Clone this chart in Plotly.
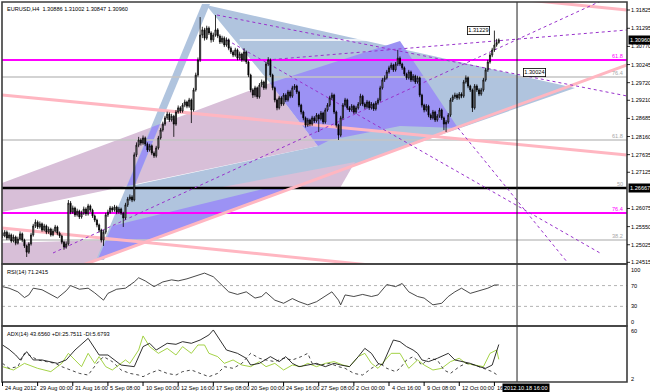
import plotly.graph_objects as go

# ---------------- data ----------------
symbol_text = "EURUSD,H4  1.30886 1.31002 1.30847 1.30960"
bar_index = list(range(227))

closes = [1.2528,1.2539,1.2522,1.2531,1.2513,1.2525,1.2507,1.2519,1.2534,1.2516,
 1.2499,1.2481,1.2505,1.2531,1.2557,1.2568,1.2554,1.2563,1.2545,1.2557,
 1.2539,1.2548,1.2531,1.2542,1.2554,1.2536,1.2528,1.2510,1.2496,1.2505,
 1.2623,1.2597,1.2609,1.2589,1.2600,1.2583,1.2594,1.2606,1.2592,1.2615,
 1.2603,1.2586,1.2574,1.2560,1.2545,1.2516,1.2539,1.2589,1.2597,1.2609,
 1.2603,1.2612,1.2597,1.2606,1.2594,1.2580,1.2618,1.2635,1.2641,1.2632,
 1.2763,1.2791,1.2806,1.2797,1.2812,1.2794,1.2777,1.2789,1.2768,1.2760,
 1.2783,1.2812,1.2835,1.2852,1.2870,1.2881,1.2864,1.2875,1.2852,1.2887,
 1.2899,1.2890,1.2907,1.2916,1.2904,1.2922,1.2893,1.2951,1.2994,1.3038,
 1.3110,1.3125,1.3101,1.3130,1.3116,1.3096,1.3110,1.3125,1.3107,1.3090,
 1.3101,1.3081,1.3096,1.3072,1.3061,1.3052,1.3067,1.3043,1.3055,1.3038,
 1.3061,1.3032,1.2994,1.2951,1.2936,1.2957,1.2931,1.2965,1.2974,1.2957,
 1.3026,1.3038,1.2994,1.2957,1.2922,1.2899,1.2928,1.2910,1.2936,1.2922,
 1.2945,1.2933,1.2957,1.2962,1.2945,1.2907,1.2887,1.2870,1.2849,1.2864,
 1.2852,1.2870,1.2861,1.2878,1.2867,1.2884,1.2858,1.2893,1.2907,1.2928,
 1.2936,1.2887,1.2849,1.2820,1.2870,1.2907,1.2922,1.2899,1.2893,1.2904,
 1.2887,1.2899,1.2910,1.2933,1.2910,1.2902,1.2916,1.2899,1.2910,1.2896,
 1.2913,1.2922,1.2957,1.2980,1.2986,1.3003,1.3015,1.3023,1.3009,1.3026,
 1.3043,1.3026,1.3015,1.2997,1.2986,1.3003,1.2980,1.2991,1.2974,1.2986,
 1.2936,1.2907,1.2893,1.2904,1.2878,1.2870,1.2887,1.2864,1.2875,1.2893,
 1.2870,1.2852,1.2858,1.2878,1.2922,1.2931,1.2936,1.2928,1.2939,1.2933,
 1.2974,1.2986,1.2962,1.2951,1.2899,1.2962,1.2951,1.2939,1.2951,1.2980,
 1.3009,1.3032,1.3052,1.3067,1.3081,1.30886,1.30960]

opens = [1.2537,1.2528,1.2539,1.2522,1.2531,1.2513,1.2525,1.2507,1.2519,1.2534,
 1.2516,1.2499,1.2481,1.2505,1.2531,1.2557,1.2568,1.2554,1.2563,1.2545,
 1.2557,1.2539,1.2548,1.2531,1.2542,1.2554,1.2536,1.2528,1.2510,1.2496,
 1.2505,1.2623,1.2597,1.2609,1.2589,1.2600,1.2583,1.2594,1.2606,1.2592,
 1.2615,1.2603,1.2586,1.2574,1.2560,1.2545,1.2516,1.2539,1.2589,1.2597,
 1.2609,1.2603,1.2612,1.2597,1.2606,1.2594,1.2580,1.2618,1.2635,1.2641,
 1.2632,1.2763,1.2791,1.2806,1.2797,1.2812,1.2794,1.2777,1.2789,1.2768,
 1.2760,1.2783,1.2812,1.2835,1.2852,1.2870,1.2881,1.2864,1.2875,1.2852,
 1.2887,1.2899,1.2890,1.2907,1.2916,1.2904,1.2922,1.2893,1.2951,1.2994,
 1.3038,1.3110,1.3125,1.3101,1.3130,1.3116,1.3096,1.3110,1.3125,1.3107,
 1.3090,1.3101,1.3081,1.3096,1.3072,1.3061,1.3052,1.3067,1.3043,1.3055,
 1.3038,1.3061,1.3032,1.2994,1.2951,1.2936,1.2957,1.2931,1.2965,1.2974,
 1.2957,1.3026,1.3038,1.2994,1.2957,1.2922,1.2899,1.2928,1.2910,1.2936,
 1.2922,1.2945,1.2933,1.2957,1.2962,1.2945,1.2907,1.2887,1.2870,1.2849,
 1.2864,1.2852,1.2870,1.2861,1.2878,1.2867,1.2884,1.2858,1.2893,1.2907,
 1.2928,1.2936,1.2887,1.2849,1.2820,1.2870,1.2907,1.2922,1.2899,1.2893,
 1.2904,1.2887,1.2899,1.2910,1.2933,1.2910,1.2902,1.2916,1.2899,1.2910,
 1.2896,1.2913,1.2922,1.2957,1.2980,1.2986,1.3003,1.3015,1.3023,1.3009,
 1.3026,1.3043,1.3026,1.3015,1.2997,1.2986,1.3003,1.2980,1.2991,1.2974,
 1.2986,1.2936,1.2907,1.2893,1.2904,1.2878,1.2870,1.2887,1.2864,1.2875,
 1.2893,1.2870,1.2852,1.2858,1.2878,1.2922,1.2931,1.2936,1.2928,1.2939,
 1.2933,1.2974,1.2986,1.2962,1.2951,1.2899,1.2962,1.2951,1.2939,1.2951,
 1.2980,1.3009,1.3032,1.3052,1.3067,1.3081,1.30886]

highs = [1.2546,1.2545,1.2544,1.2538,1.2535,1.2532,1.2529,1.2526,1.2541,1.2538,
 1.2520,1.2503,1.2510,1.2537,1.2563,1.2576,1.2573,1.2570,1.2567,1.2563,
 1.2561,1.2555,1.2552,1.2549,1.2560,1.2558,1.2541,1.2532,1.2514,1.2512,
 1.2632,1.2629,1.2616,1.2613,1.2607,1.2604,1.2601,1.2613,1.2611,1.2621,
 1.2619,1.2607,1.2590,1.2578,1.2564,1.2549,1.2545,1.2595,1.2604,1.2615,
 1.2614,1.2618,1.2616,1.2612,1.2610,1.2598,1.2624,1.2641,1.2648,1.2646,
 1.2770,1.2799,1.2815,1.2811,1.2819,1.2816,1.2799,1.2795,1.2793,1.2773,
 1.2789,1.2818,1.2841,1.2859,1.2876,1.2888,1.2886,1.2882,1.2879,1.2893,
 1.2906,1.2904,1.2913,1.2923,1.2920,1.2928,1.2926,1.2957,1.3001,1.3045,
 1.3162,1.3134,1.3131,1.3137,1.3135,1.3121,1.3117,1.3168,1.3130,1.3112,
 1.3108,1.3106,1.3103,1.3100,1.3077,1.3066,1.3073,1.3071,1.3062,1.3059,
 1.3072,1.3065,1.3036,1.2998,1.2956,1.2963,1.2961,1.2971,1.2981,1.2978,
 1.3032,1.3046,1.3042,1.2998,1.2961,1.2926,1.2934,1.2933,1.2942,1.2941,
 1.2951,1.2950,1.2963,1.2968,1.2966,1.2949,1.2911,1.2891,1.2874,1.2870,
 1.2868,1.2876,1.2875,1.2884,1.2882,1.2890,1.2888,1.2899,1.2913,1.2934,
 1.2943,1.2940,1.2891,1.2853,1.2876,1.2913,1.2928,1.2926,1.2904,1.2910,
 1.2908,1.2905,1.2916,1.2940,1.2937,1.2915,1.2922,1.2920,1.2916,1.2914,
 1.2919,1.2928,1.2963,1.2986,1.2993,1.3009,1.3021,1.3030,1.3027,1.3032,
 1.3067,1.3048,1.3030,1.3019,1.3001,1.3009,1.3007,1.2997,1.2995,1.2992,
 1.2990,1.2940,1.2911,1.2910,1.2908,1.2883,1.2893,1.2891,1.2881,1.2899,
 1.2897,1.2874,1.2864,1.2884,1.2928,1.2937,1.2943,1.2941,1.2945,1.2944,
 1.2980,1.2993,1.2990,1.2966,1.2955,1.2968,1.2967,1.2956,1.2957,1.2986,
 1.3015,1.3038,1.3058,1.3073,1.31229,1.3099,1.31002]

lows = [1.2522,1.2524,1.2516,1.2517,1.2508,1.2509,1.2501,1.2503,1.2515,1.2510,
 1.2493,1.2467,1.2476,1.2500,1.2526,1.2551,1.2548,1.2549,1.2540,1.2541,
 1.2533,1.2534,1.2526,1.2527,1.2538,1.2530,1.2522,1.2504,1.2488,1.2491,
 1.2500,1.2591,1.2592,1.2583,1.2584,1.2577,1.2578,1.2589,1.2586,1.2587,
 1.2597,1.2580,1.2568,1.2553,1.2538,1.2509,1.2499,1.2533,1.2583,1.2592,
 1.2597,1.2598,1.2591,1.2592,1.2589,1.2554,1.2575,1.2612,1.2630,1.2626,
 1.2628,1.2757,1.2785,1.2790,1.2792,1.2788,1.2771,1.2772,1.2762,1.2754,
 1.2755,1.2778,1.2807,1.2830,1.2847,1.2864,1.2858,1.2859,1.2815,1.2847,
 1.2882,1.2884,1.2885,1.2901,1.2898,1.2899,1.2855,1.2888,1.2946,1.2989,
 1.3032,1.3101,1.3094,1.3096,1.3110,1.3088,1.3090,1.3105,1.3101,1.3084,
 1.3085,1.3075,1.3076,1.3066,1.3055,1.3046,1.3047,1.3037,1.3038,1.3032,
 1.3033,1.3026,1.2988,1.2944,1.2928,1.2930,1.2925,1.2926,1.2959,1.2951,
 1.2952,1.3020,1.2988,1.2950,1.2915,1.2892,1.2894,1.2904,1.2905,1.2916,
 1.2917,1.2927,1.2928,1.2951,1.2939,1.2901,1.2880,1.2863,1.2842,1.2844,
 1.2846,1.2847,1.2855,1.2856,1.2829,1.2862,1.2852,1.2853,1.2888,1.2902,
 1.2922,1.2881,1.2842,1.2806,1.2815,1.2865,1.2902,1.2893,1.2887,1.2888,
 1.2881,1.2882,1.2894,1.2905,1.2904,1.2896,1.2897,1.2893,1.2894,1.2890,
 1.2891,1.2908,1.2917,1.2952,1.2974,1.2981,1.2998,1.3009,1.3003,1.3004,
 1.3020,1.3020,1.3009,1.2991,1.2980,1.2981,1.2974,1.2975,1.2968,1.2969,
 1.2930,1.2900,1.2886,1.2888,1.2872,1.2864,1.2865,1.2858,1.2859,1.2870,
 1.2864,1.2835,1.2829,1.2853,1.2873,1.2916,1.2925,1.2922,1.2923,1.2927,
 1.2928,1.2969,1.2956,1.2945,1.2887,1.2894,1.2945,1.2933,1.2934,1.2946,
 1.2975,1.3003,1.3027,1.3046,1.3061,1.3076,1.30847]

date_tick_bars = [0,16,32,48,64,80,96,112,128,144,160,176,192,208,224]
date_tick_labels = ["24 Aug 2012","29 Aug 00:00","31 Aug 16:00","5 Sep 08:00","10 Sep 00:00",
                    "12 Sep 16:00","17 Sep 08:00","20 Sep 00:00","24 Sep 16:00","27 Sep 08:00",
                    "2 Oct 00:00","4 Oct 16:00","9 Oct 08:00","12 Oct 00:00","16"]
price_tick_values = [1.31825,1.31295,1.30770,1.30245,1.29720,1.29210,1.28685,1.28160,
                     1.27635,1.27125,1.26075,1.25550,1.25025,1.24515]
current_price = 1.30960
crosshair_bar = 234.3
crosshair_text = "2012.10.18 16:00"

rsi_bars = [0,3,7,10,12,14,18,22,25,29,31,35,39,42,46,48,52,56,60,62,65,69,73,77,80,84,87,92,96,99,
            103,107,111,115,118,120,124,128,132,135,139,143,147,150,153,154,156,160,164,168,
            171,175,179,182,185,189,192,196,200,203,206,209,213,217,221,224,226]
rsi_values = [68,65,58,47,52,65,62,53,46,60,70,63,65,56,42,55,63,65,77,85,79,68,77,81,79,83,87,94,87,74,
              58,53,58,46,49,57,42,36,45,39,33,39,49,58,42,33,52,49,53,49,
              52,72,68,74,58,49,46,33,36,49,58,65,55,60,65,71,71.24]
rsi_levels = [70, 30]

adx_bars = [0,3,6,8,11,14,18,22,25,29,33,39,44,48,54,60,64,67,70,75,79,82,86,90,94,96,98,102,107,111,
            113,117,122,126,129,132,135,139,143,147,151,154,158,162,165,168,171,173,176,178,
            181,184,187,189,191,194,198,203,206,209,213,217,220,223,225,226]
adx_values = [43.1,37.8,31.0,25.0,35.0,25.0,25.0,23.0,20.9,25.0,37.0,51.1,31.0,31.0,18.9,16.9,41.1,45.1,37.0,45.1,
              43.9,47.1,45.1,49.1,55.2,61.2,53.2,37.0,33.0,27.0,18.9,20.9,29.0,23.0,29.0,20.9,16.9,18.9,20.9,16.9,
              20.9,18.9,16.9,29.0,39.0,33.0,20.9,18.9,37.0,49.1,47.1,41.1,37.0,33.0,25.0,23.0,27.0,33.0,25.0,23.0,
              20.9,16.9,14.9,18.9,35.0,43.66]
pdi_bars = [0,5,10,16,22,27,30,33,36,39,42,44,47,50,56,58,62,64,67,71,75,79,82,86,89,92,94,98,101,105,
            109,113,117,120,124,128,132,136,139,143,147,151,155,158,162,165,168,171,173,177,
            181,185,189,192,196,200,204,208,211,215,219,222,225,226]
pdi_values = [16.9,12.9,20.9,14.9,10.9,20.9,33.0,25.0,16.9,33.0,20.9,29.0,16.9,12.9,25.0,20.9,37.0,54.0,41.1,33.0,
              39.0,31.0,41.1,33.0,43.1,43.1,33.0,29.0,20.9,25.0,18.9,16.9,23.0,16.9,20.9,12.9,18.9,16.9,20.9,16.9,
              20.9,23.0,18.9,16.9,29.0,33.0,20.9,14.9,20.9,33.0,33.0,14.9,25.0,18.9,12.9,14.9,23.0,27.0,20.9,18.9,
              16.9,33.0,37.0,25.75]
mdi_bars = [0,3,7,10,12,16,20,24,27,31,35,39,43,46,50,54,58,62,64,67,71,75,79,82,86,90,94,98,101,105,
            109,113,117,120,124,128,132,136,139,141,145,149,153,156,160,164,168,172,175,179,
            181,184,187,191,194,198,201,204,208,211,215,219,223,226]
mdi_values = [20.9,14.9,16.9,33.0,31.0,25.0,23.0,20.9,16.9,12.9,8.8,6.8,20.9,29.0,23.0,12.9,8.8,6.8,4.8,8.8,
              12.9,8.8,6.8,10.9,12.9,8.8,4.8,8.8,16.9,14.9,20.9,33.0,27.0,25.0,23.0,27.0,25.0,29.0,33.0,20.9,
              18.9,20.9,16.9,14.9,8.8,6.8,14.9,20.9,14.9,10.9,14.9,25.0,29.0,18.9,27.0,25.0,12.9,8.8,16.9,20.9,
              18.9,14.9,10.9,5.68]

# horizontal retracement levels (price) and their labels
fib_levels = [1.30377, 1.29884, 1.28059, 1.26667, 1.25945, 1.25162]
fib_texts = ["61.8", "76.4", "61.8", "50", "76.4", "38.2"]
fib_kinds = ["magenta", "gray", "gray", "black", "magenta", "gray"]

# drawn objects: vertices as (bar index, price)
obj_thistle_upper = [(-0.23,1.26813),(121.81,1.29711),(143.67,1.27885),(-0.23,1.25973)]
obj_thistle_lower = [(-0.23,1.25075),(46.68,1.25162),(43.49,1.24612),(36.66,1.24438),(-0.23,1.24438)]
obj_blue_main = [(92.67,1.31970),(260.7,1.29566),(161.43,1.27364),(43.49,1.24612),
                 (60.34,1.26756),(143.67,1.27885),(121.81,1.29711)]
obj_blue_leg = [(42.58,1.24583),(46.22,1.24583),(94.49,1.31999),(90.85,1.31999)]
obj_purple_leg = [(56.69,1.26724),(60.34,1.26770),(71.72,1.28520),(68.08,1.28433)]
obj_purple_mid = [(121.81,1.29711),(181.01,1.30927),(207.42,1.28407),(181.01,1.28465),
                  (149.13,1.28059),(143.67,1.27885)]
obj_purple_wedge = [(43.49,1.24612),(49.86,1.25568),(135.47,1.26900),(149.13,1.27074)]
obj_thistle_small = [(97.68,1.26667),(160.52,1.27422),(153.69,1.26667)]
pink_lines = [((-0.23,1.29363),(284.38,1.27625)),
              ((-0.23,1.25510),(180.9,1.24351)),
              ((36.66,1.24438),(284.38,1.30232)),
              ((238.8,1.32115),(284.38,1.31825))]
dotted_lines = [((23.0,1.24786),(273.5,1.32115)),
                ((97.68,1.31680),(284.38,1.29334)),
                ((120.4,1.30377),(284.38,1.31246)),
                ((102.2,1.30956),(272.1,1.24786)),
                ((207.42,1.28407),(257.1,1.24525))]
white_line = ((108.0,1.30956),(181.0,1.30956))
label_high = (211.5, 1.31229, "1.31229")
label_mid = (237.0, 1.30024, "1.30024")

# ---------------- layout helpers ----------------
W, H = 650, 392
ML, MR, MT, MB = 2, 23, 2, 10
PW, PH = W - ML - MR, H - MT - MB
def py(p):
    return 1 - (p - MT) / PH

XR = [-0.228, 284.38]
dom_main = [py(264), 1.0]
dom_rsi = [py(326), py(264)]
dom_adx = [0.0, py(326)]
FONT = "Liberation Sans, Arial, sans-serif"
FS = 5.6

BLUE = "#b0c4de"
THISTLE = "#d8bfd8"
PURPLE = "#9c92f4"
PINK = "#ffb6c1"
ORCHID = "#9932cc"
MAGENTA = "#ff00ff"

fig = go.Figure()
fig.add_trace(go.Candlestick(
    x=bar_index, open=opens, high=highs, low=lows, close=closes,
    increasing=dict(line=dict(color="#000000", width=0.8), fillcolor="#a8a8a8"),
    decreasing=dict(line=dict(color="#000000", width=0.8), fillcolor="#000000"),
    xaxis="x", yaxis="y", hoverinfo="skip", whiskerwidth=0))
fig.add_trace(go.Scatter(x=rsi_bars, y=rsi_values, mode="lines",
                         line=dict(color="#1a1a1a", width=0.8), xaxis="x2", yaxis="y2"))
fig.add_trace(go.Scatter(x=pdi_bars, y=pdi_values, mode="lines",
                         line=dict(color="#9acd32", width=0.9), xaxis="x3", yaxis="y3"))
fig.add_trace(go.Scatter(x=mdi_bars, y=mdi_values, mode="lines",
                         line=dict(color="#1a1a1a", width=0.8, dash="dot"), xaxis="x3", yaxis="y3"))
fig.add_trace(go.Scatter(x=adx_bars, y=adx_values, mode="lines",
                         line=dict(color="#1a1a1a", width=0.9), xaxis="x3", yaxis="y3"))

shapes = []
def poly(pts, color):
    path = "M " + " L ".join(f"{x},{y}" for x, y in pts) + " Z"
    shapes.append(dict(type="path", path=path, xref="x", yref="y", layer="below",
                       fillcolor=color, line=dict(width=0)))
def seg(a, b, color, width, dash="solid", xref="x", yref="y"):
    shapes.append(dict(type="line", x0=a[0], y0=a[1], x1=b[0], y1=b[1], xref=xref, yref=yref,
                       layer="below", line=dict(color=color, width=width, dash=dash)))

poly(obj_thistle_upper, THISTLE)
poly(obj_thistle_lower, THISTLE)
poly(obj_blue_main, BLUE)
poly(obj_blue_leg, BLUE)
poly(obj_purple_leg, PURPLE)
poly(obj_purple_mid, PURPLE)
poly(obj_purple_wedge, PURPLE)
poly(obj_thistle_small, THISTLE)

level_style = {"magenta": (MAGENTA, 2.0), "gray": ("#c4c4c4", 1.6), "black": ("#000000", 2.4)}
for lv, kind in zip(fib_levels, fib_kinds):
    c, w = level_style[kind]
    seg((XR[0], lv), (XR[1], lv), c, w)
seg(white_line[0], white_line[1], "#ffffff", 1.5)
for a, b in pink_lines:
    seg(a, b, PINK, 3)
for a, b in dotted_lines:
    seg(a, b, ORCHID, 1, "dot")

for lv in rsi_levels:
    shapes.append(dict(type="line", x0=XR[0], x1=XR[1], y0=lv, y1=lv, xref="x2", yref="y2",
                       layer="below", line=dict(color="#a0a0a0", width=0.8, dash="dot")))
shapes.append(dict(type="line", x0=crosshair_bar, x1=crosshair_bar, y0=0, y1=1, xref="x", yref="paper",
                   line=dict(color="#202020", width=1)))
for d in (dom_main, dom_rsi, dom_adx):
    shapes.append(dict(type="rect", x0=0, x1=1, y0=d[0], y1=d[1], xref="paper", yref="paper",
                       line=dict(color="#3c3c3c", width=1.6)))
for b in date_tick_bars:
    shapes.append(dict(type="line", x0=b, x1=b, y0=0, y1=-4 / PH, xref="x3", yref="paper",
                       line=dict(color="#000000", width=1)))
for p in price_tick_values:
    shapes.append(dict(type="line", x0=1, x1=1 + 3 / PW, y0=p, y1=p, xref="paper", yref="y",
                       line=dict(color="#000000", width=0.8)))

ann = []
def txt(**kw):
    base = dict(showarrow=False, font=dict(family=FONT, size=FS, color="#000000"))
    base.update(kw)
    ann.append(base)

txt(text=symbol_text, xref="paper", yref="paper", x=0, y=1, xanchor="left", yanchor="top",
    xshift=3, yshift=-2)
txt(text="RSI(14) 71.2415", xref="paper", yref="paper", x=0, y=dom_rsi[1], xanchor="left",
    yanchor="top", xshift=3, yshift=-3)
txt(text="ADX(14) 43.6560 +DI:25.7511 -DI:5.6793", xref="paper", yref="paper", x=0, y=dom_adx[1],
    xanchor="left", yanchor="top", xshift=3, yshift=-3)

for p in price_tick_values:
    txt(text=f"{p:.5f}", xref="paper", yref="y", x=1, y=p, xanchor="left", yanchor="middle", xshift=2)
txt(text=f"{current_price:.5f}", xref="paper", yref="y", x=1, y=current_price, xanchor="left",
    yanchor="middle", xshift=1, bgcolor="#000000", font=dict(family=FONT, size=FS, color="#ffffff"))
txt(text=f"{fib_levels[3]:.5f}", xref="paper", yref="y", x=1, y=fib_levels[3], xanchor="left",
    yanchor="middle", xshift=1, bgcolor="#000000", font=dict(family=FONT, size=FS, color="#ffffff"))

fib_label_color = {"magenta": MAGENTA, "gray": "#a8a8a8", "black": "#a8a8a8"}
for lv, t, kind in zip(fib_levels, fib_texts, fib_kinds):
    txt(text=t, xref="paper", yref="y", x=1, y=lv, xanchor="right", yanchor="bottom", xshift=-2,
        yshift=-1, font=dict(family=FONT, size=FS, color=fib_label_color[kind]))

for x, y, t in (label_high, label_mid):
    txt(text=t, xref="x", yref="y", x=x, y=y, xanchor="left", yanchor="middle",
        bgcolor="#ffffff", bordercolor="#000000", borderwidth=0.8, borderpad=0.5)

for lvl in (100, 70, 30, 0):
    txt(text=str(lvl), xref="paper", yref="y2", x=1, y=lvl, xanchor="left", yanchor="middle", xshift=2)
for lvl, t in ((60, "60"), (2, "2")):
    txt(text=t, xref="paper", yref="y3", x=1, y=lvl, xanchor="left", yanchor="middle", xshift=2)

for b, t in zip(date_tick_bars, date_tick_labels):
    txt(text=t, xref="x3", yref="paper", x=b, y=0, xanchor="left", yanchor="top", xshift=0.5, yshift=-0.5)
txt(text=crosshair_text, xref="x3", yref="paper", x=crosshair_bar, y=0, xanchor="left", yanchor="top",
    xshift=-15, yshift=-0.5, bgcolor="#000000", font=dict(family=FONT, size=FS, color="#ffffff"))

axis_common = dict(showgrid=False, zeroline=False, showticklabels=False, ticks="", showline=False,
                   fixedrange=True)
fig.update_layout(
    width=W, height=H, margin=dict(l=ML, r=MR, t=MT, b=MB),
    paper_bgcolor="#ffffff", plot_bgcolor="#ffffff", showlegend=False,
    xaxis=dict(range=XR, domain=[0, 1], anchor="y", rangeslider=dict(visible=False), **axis_common),
    yaxis=dict(range=[1.24467, 1.32057], domain=dom_main, anchor="x", **axis_common),
    xaxis2=dict(range=XR, domain=[0, 1], anchor="y2", matches="x", **axis_common),
    yaxis2=dict(range=[-7.7, 111.5], domain=dom_rsi, anchor="x2", **axis_common),
    xaxis3=dict(range=XR, domain=[0, 1], anchor="y3", matches="x", **axis_common),
    yaxis3=dict(range=[-1.6, 66.0], domain=dom_adx, anchor="x3", **axis_common),
    shapes=shapes, annotations=ann,
)

fig.write_html("out.html", config={"displayModeBar": False, "staticPlot": True},
               post_script="document.body.style.margin='0';document.body.style.overflow='hidden';")
